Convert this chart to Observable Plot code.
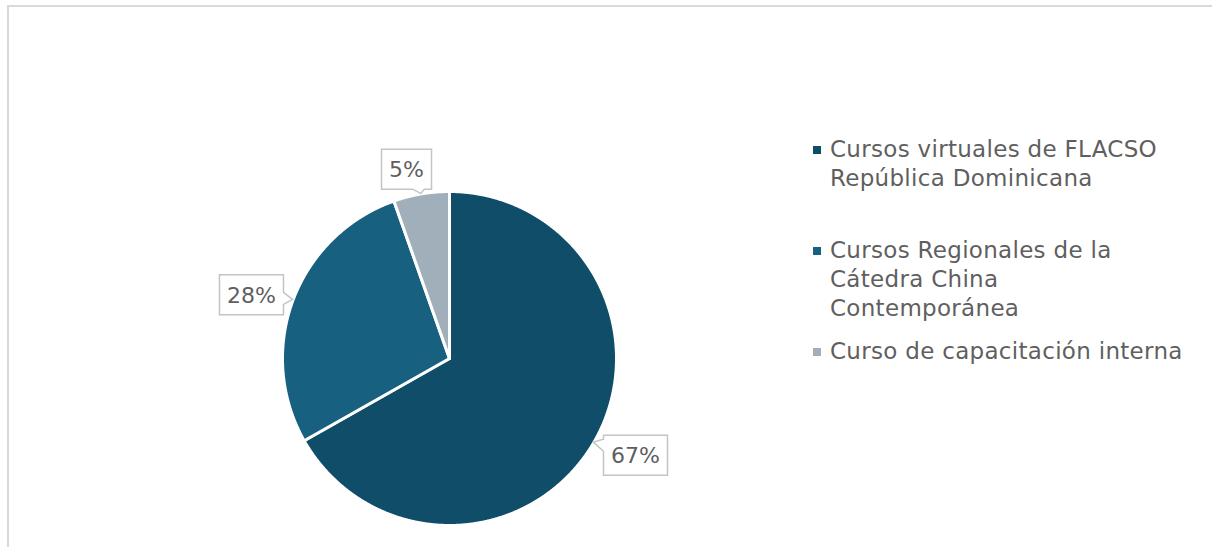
<!DOCTYPE html>
<html><head><meta charset="utf-8">
<script src="https://cdn.jsdelivr.net/npm/d3@7"></script>
<script src="https://cdn.jsdelivr.net/npm/@observablehq/plot@0.6"></script>
<style>
body{margin:0;background:#fff;}
#wrap{position:relative;width:1212px;height:547px;overflow:hidden;font-family:"DejaVu Sans",sans-serif;}
#frame{position:absolute;left:7px;top:5px;width:1220px;height:560px;border-top:2px solid #d9d9d9;border-left:2px solid #d9d9d9;}
#chart{position:absolute;left:0;top:0;}
.item{position:absolute;left:813px;font-size:23px;line-height:29px;color:#5f5f5f;letter-spacing:0.3px;white-space:nowrap;}
.item .sw{position:absolute;left:0;top:11px;width:8px;height:8px;}
.item .tx{position:absolute;left:17px;top:0;}
</style></head>
<body>
<div id="wrap"><div id="frame"></div><div id="chart"></div></div>
<script>
const categories = ["Cursos virtuales de FLACSO República Dominicana", "Cursos Regionales de la Cátedra China Contemporánea", "Curso de capacitación interna"];
const values = [66.8, 27.8, 5.4];
const colors = ["#0f4d69", "#17607f", "#a1afbb"];
const legendLines = [["Cursos virtuales de FLACSO", "República Dominicana"], ["Cursos Regionales de la", "Cátedra China", "Contemporánea"], ["Curso de capacitación interna"]];
const legendTops = [135, 236, 337];

const total = d3.sum(values);
const arcs = d3.pie().sort(null).value(d => d.value)(categories.map((c, i) => ({cat: c, value: values[i]})));

// slice polygons in unit-circle data space (y up)
const pts = [];
arcs.forEach(a => {
  const cat = a.data.cat;
  pts.push({cat, x: 0, y: 0});
  const n = Math.max(2, Math.ceil((a.endAngle - a.startAngle) / (Math.PI / 720)));
  for (let k = 0; k <= n; k++) {
    const t = a.startAngle + (a.endAngle - a.startAngle) * k / n;
    pts.push({cat, x: Math.sin(t), y: Math.cos(t)});
  }
});

function callouts(index, scales) {
  const g = d3.create("svg:g");
  arcs.forEach(a => {
    const m = (a.startAngle + a.endAngle) / 2;
    const tx = scales.x(Math.sin(m)), ty = scales.y(Math.cos(m));
    const ux = Math.sin(m), uy = -Math.cos(m);
    const vx = Math.cos(m), vy = Math.sin(m); // clockwise tangent
    const label = Math.round(a.data.value / total * 100) + "%";
    const hw = label.length > 2 ? 32 : 25, hh = 20;
    const dist = Math.min(Math.abs(ux) > 1e-6 ? hw / Math.abs(ux) : 1e9, Math.abs(uy) > 1e-6 ? hh / Math.abs(uy) : 1e9);
    const bx = tx + ux * (dist + 6) - vx * 10, by = ty + uy * (dist + 6) - vy * 10;
    const x0 = bx - hw, x1 = bx + hw, y0 = by - hh, y1 = by + hh;
    const dx = tx - bx, dy = ty - by;
    const b = 6;
    let path = [];
    const clamp = (v, lo, hi) => Math.max(lo, Math.min(hi, v));
    if (Math.abs(dx) * hh > Math.abs(dy) * hw) {
      const p = clamp(by + dy * (hw / Math.abs(dx)), y0 + b, y1 - b);
      if (dx > 0) path = [[x0, y0], [x1, y0], [x1, p - b], [tx, ty], [x1, p + b], [x1, y1], [x0, y1]];
      else path = [[x0, y0], [x1, y0], [x1, y1], [x0, y1], [x0, p + b], [tx, ty], [x0, p - b]];
    } else {
      const p = clamp(bx + dx * (hh / Math.abs(dy)), x0 + b, x1 - b);
      if (dy < 0) path = [[x0, y0], [p - b, y0], [tx, ty], [p + b, y0], [x1, y0], [x1, y1], [x0, y1]];
      else path = [[x0, y0], [x1, y0], [x1, y1], [p + b, y1], [tx, ty], [p - b, y1], [x0, y1]];
    }
    g.append("path").attr("d", "M" + path.map(p => p.join(",")).join("L") + "Z")
      .attr("fill", "white").attr("stroke", "#c4c4c4").attr("stroke-width", 1.5).attr("stroke-linejoin", "miter");
    g.append("text").attr("x", bx).attr("y", by).attr("dy", "0.36em").attr("text-anchor", "middle")
      .attr("font-family", "DejaVu Sans, sans-serif").attr("font-size", 22).attr("fill", "#5f5f5f").text(label);
  });
  return g.node();
}

const chart = Plot.plot({
  width: 1212, height: 547,
  marginLeft: 282, marginRight: 596, marginTop: 191, marginBottom: 22,
  x: {domain: [-1, 1], axis: null},
  y: {domain: [-1, 1], axis: null},
  color: {domain: categories, range: colors},
  style: {background: "transparent"},
  marks: [
    Plot.line(pts, {x: "x", y: "y", z: "cat", fill: "cat", stroke: "white", strokeWidth: 3, strokeLinejoin: "round", curve: "linear-closed"}),
    callouts
  ]
});
document.getElementById("chart").appendChild(chart);

const wrap = document.getElementById("wrap");
legendLines.forEach((lines, i) => {
  const d = document.createElement("div");
  d.className = "item";
  d.style.top = legendTops[i] + "px";
  d.innerHTML = `<span class="sw" style="background:${colors[i]}"></span><span class="tx">${lines.join("<br>")}</span>`;
  wrap.appendChild(d);
});
</script>
</body></html>
